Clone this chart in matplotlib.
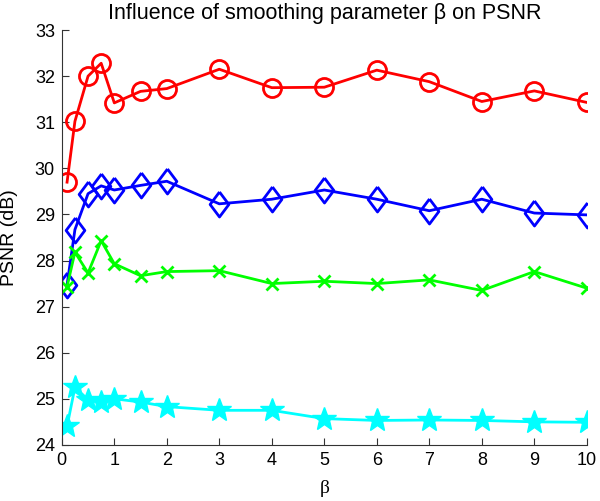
import matplotlib
matplotlib.use("Agg")
from matplotlib import pyplot as plt

# wartosci beta i PSNR dla czterech przypadkow
beta = [0.1, 0.25, 0.5, 0.75, 1, 1.5, 2, 3, 4, 5, 6, 7, 8, 9, 10]
psnr_red = [29.70, 31.02, 32.00, 32.28, 31.42, 31.67, 31.73, 32.15, 31.75, 31.76, 32.13, 31.88, 31.45, 31.68, 31.43]
psnr_blue = [27.47, 28.67, 29.45, 29.62, 29.53, 29.63, 29.72, 29.23, 29.33, 29.53, 29.33, 29.08, 29.33, 29.03, 28.99]
psnr_green = [27.43, 28.18, 27.73, 28.43, 27.93, 27.67, 27.76, 27.78, 27.50, 27.55, 27.50, 27.58, 27.35, 27.76, 27.40]
psnr_cyan = [24.40, 25.25, 24.98, 24.93, 25.00, 24.93, 24.83, 24.75, 24.75, 24.57, 24.53, 24.54, 24.53, 24.50, 24.49]

plt.rcParams['font.family'] = ['Liberation Sans', 'DejaVu Sans']
plt.rcParams['font.size'] = 13

# romb jak w matlabie (troche wyzszy niz szerszy)
romb = [(0, 1), (0.75, 0), (0, -1), (-0.75, 0), (0, 1)]

fig = plt.figure(figsize=(6, 5.01), dpi=100)
ax = fig.add_axes([0.103, 0.112, 0.875, 0.828])

ax.plot(beta, psnr_red, color='#ff0000', lw=2, marker='o', ms=13, mfc='none', mew=2)
ax.plot(beta, psnr_blue, color='#0000ff', lw=2, marker=romb, ms=18, mfc='none', mew=2)
ax.plot(beta, psnr_green, color='#00ff00', lw=2, marker='x', ms=8, mew=2)
ax.plot(beta, psnr_cyan, color='#00ffff', lw=2, marker='*', ms=18, mew=1)

ax.set_xlim(0, 10)
ax.set_ylim(24, 33)
ax.set_xticks(range(0, 11))
ax.set_yticks(range(24, 34))
ax.spines['top'].set_visible(False)
ax.spines['right'].set_visible(False)
ax.spines['left'].set_color('#333333')
ax.spines['bottom'].set_color('#333333')
ax.tick_params(direction='in', length=5, color='#333333', pad=5)
ax.set_xlabel("β", fontsize=14, family=['Liberation Serif'], labelpad=8)
ax.set_ylabel("PSNR (dB)", fontsize=14, labelpad=12)
ax.set_title("Influence of smoothing parameter β on PSNR", fontsize=15.5, pad=8)

fig.savefig("out.png", dpi=100)
